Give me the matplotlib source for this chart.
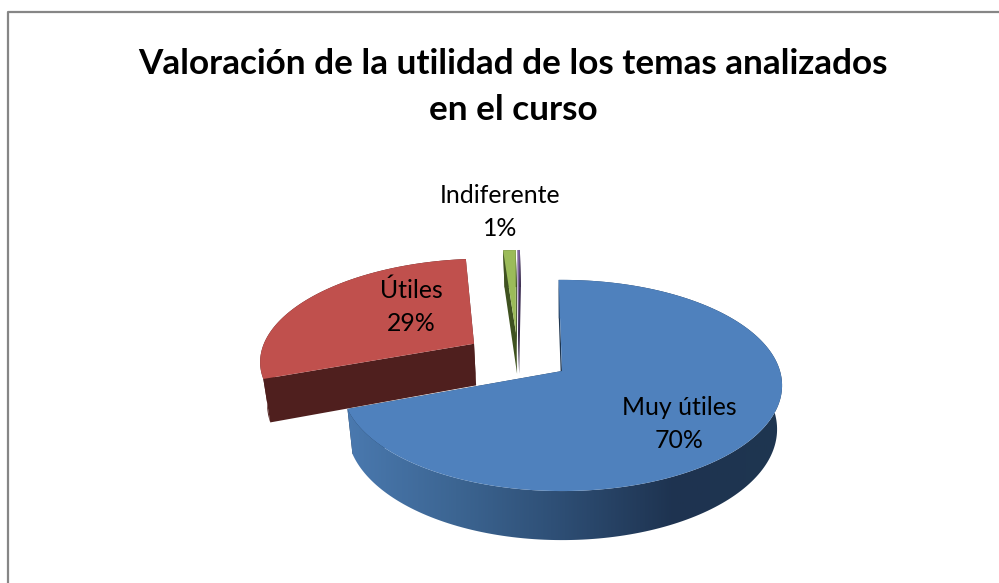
import numpy as np
import matplotlib
matplotlib.use("Agg")
import matplotlib.pyplot as plt
from matplotlib.colors import LinearSegmentedColormap
from matplotlib.patches import Polygon

plt.rcParams['font.family'] = ['Lato', 'DejaVu Sans']

title = "Valoración de la utilidad de los temas analizados\nen el curso"
names = ["Muy útiles", "Útiles", "Indiferente", ""]
values = [69.6, 29.1, 1.1, 0.2]
top_colors = ["#4f81bd", "#c0504d", "#9bbb59", "#8064a2"]
wall_colors = ["#1f3650", "#4f1f1e", "#3f5220", "#3d2f52"]
label_pos = [(679, 424), (411, 307), (500, 212)]

# proyeccion del plano del pastel a pixeles
CX, CY = 562, 371
RX, RY = 218, 103.6
K = 0.137
EXPLODE = 0.25
START = 91.0


def project(px, py):
    w = 1 + K * py
    return CX + RX * px / w, CY - RY * py / w


def lower(x, y):
    # cara inferior del pastel, mas lejos de la camara
    return x - (x - 565) * 0.023, y + 42 + (y - 350) * 0.05


def slice_geometry(a0, a1, dir0):
    mid = np.radians((a0 + a1) / 2)
    ox = EXPLODE * (np.cos(mid) - dir0[0])
    oy = EXPLODE * (np.sin(mid) - dir0[1])
    t = np.radians(np.linspace(a0, a1, 200))
    arc = project(ox + np.cos(t), oy + np.sin(t))
    apex = project(ox, oy)
    return np.array(apex), np.column_stack(arc)


fig = plt.figure(figsize=(9.99, 5.83), dpi=100)
ax = fig.add_axes([0, 0, 1, 1])

# angulos de cada sector, en sentido horario
edges = START - np.cumsum([0] + values) * 3.6
mid0 = np.radians((edges[0] + edges[1]) / 2)
dir0 = (np.cos(mid0), np.sin(mid0))

shades = LinearSegmentedColormap.from_list(
    "side", ["#4a79af", "#3c6592", "#2d4d73", "#1e3350", "#1f3650"])

# primero los sectores de atras, el azul al final
for i in [1, 2, 3, 0]:
    z = 5 if i == 0 else 2
    apex, arc = slice_geometry(edges[i], edges[i + 1], dir0)
    low_x, low_y = lower(arc[:, 0], arc[:, 1])
    low_arc = np.column_stack([low_x, low_y])
    low_apex = np.array(lower(apex[0], apex[1]))

    # caras de corte
    for end, low_end in [(arc[0], low_arc[0]), (arc[-1], low_arc[-1])]:
        ax.add_patch(Polygon([end, apex, low_apex, low_end], closed=True,
                             fc=wall_colors[i], ec="none", zorder=z))

    # pared exterior
    wall = np.vstack([arc, low_arc[::-1]])
    if i == 0:
        patch = Polygon(wall, closed=True, fc="none", ec="none", zorder=z)
        ax.add_patch(patch)
        img = ax.imshow(np.linspace(0, 1, 256).reshape(1, -1), cmap=shades,
                        extent=(arc[:, 0].min(), 783, 583, 0), aspect="auto", zorder=z)
        img.set_clip_path(patch)
    else:
        ax.add_patch(Polygon(wall, closed=True, fc=wall_colors[i], ec="none", zorder=z))

    # cara superior
    ax.add_patch(Polygon(np.vstack([apex, arc]), closed=True,
                         fc=top_colors[i], ec="none", zorder=z + 1))

for name, val, (lx, ly) in zip(names, values, label_pos):
    ax.text(lx, ly, f"{name}\n{round(val)}%", ha="center", va="center",
            fontsize=17.9, color="black", linespacing=1.5, zorder=10)

ax.text(513, 87, title, ha="center", va="center", fontsize=25.3,
        fontweight="bold", color="black", linespacing=1.52, zorder=10)

# marco del grafico, sin lado derecho ni inferior
ax.plot([7.5, 7.5, 999], [583, 11.5, 11.5], color="#868686", lw=1.6, zorder=1)

ax.set_xlim(0, 999)
ax.set_ylim(583, 0)
ax.axis("off")

plt.savefig("out.png", dpi=100)
